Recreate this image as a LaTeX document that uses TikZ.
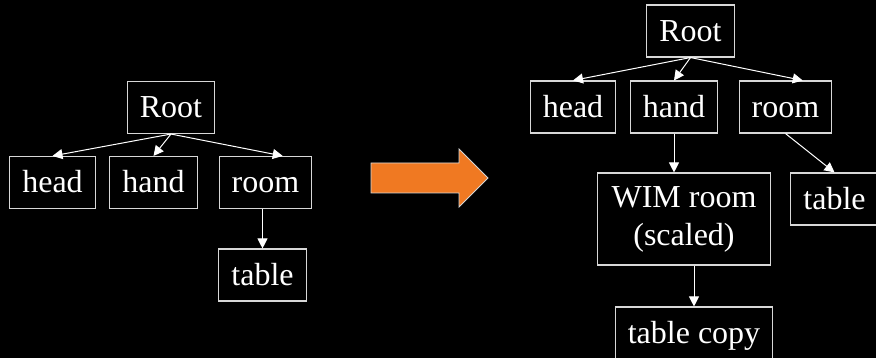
\documentclass[tikz,border=0pt]{standalone}
\usepackage{fontspec}
\setmainfont{Liberation Serif}
\usetikzlibrary{arrows.meta, calc}
\definecolor{boxline}{RGB}{215, 215, 215}
\definecolor{moveorange}{RGB}{240, 121, 34}

\begin{document}
\begin{tikzpicture}[x=1pt, y=-1pt, >={Triangle[width=10pt, length=10pt]},
    font=\fontsize{32}{38}\selectfont,
    tbox/.style={draw=boxline, line width=1.1pt, text=white, align=center,
                 minimum height=52pt, inner xsep=12.5pt, inner ysep=13.5pt},
    tnode/.style={tbox, text height=23pt, text depth=2pt},
    link/.style={->, white, line width=1pt}]
  \fill[black] (0,0) rectangle (876,358);
  \useasboundingbox (0,0) rectangle (876,358);
  % scene graph before
  \node[tnode] (r1)    at (171, 107.5)   {Root};
  \node[tnode] (head1) at (52.5, 182.5)  {head};
  \node[tnode] (hand1) at (153.5, 182.5) {hand};
  \node[tnode] (room1) at (265.5, 182.5) {room};
  \node[tnode] (tab1)  at (262.5, 275)   {table};
  \draw[link] (r1.south) -- (head1.north);
  \draw[link] (r1.south) -- (hand1.north);
  \draw[link] (r1.south) -- (room1.57);
  \draw[link] (tab1.north |- room1.south) -- (tab1.north);
  % big orange arrow
  \filldraw[fill=moveorange, draw=boxline, line width=0.8pt]
    (371,163) -- (459,163) -- (459,149) -- (488,178) -- (459,207)
    -- (459,193) -- (371,193) -- cycle;
  % scene graph after
  \node[tnode] (r2)    at (690.5, 31)  {Root};
  \node[tnode] (head2) at (573, 107)   {head};
  \node[tnode] (hand2) at (674, 107)   {hand};
  \node[tnode] (room2) at (785.5, 107) {room};
  \node[tbox, inner xsep=14pt, inner ysep=12pt, minimum height=92pt] (wim)
    at (684, 219) {WIM room\\(scaled)};
  \node[tnode] (tab2)  at (834.5, 199) {table};
  \node[tnode] (copy)  at (694, 333)   {table copy};
  \draw[link] (r2.south) -- (head2.north);
  \draw[link] (r2.south) -- (hand2.north);
  \draw[link] (r2.south) -- (room2.57);
  \draw[link] (hand2.south) -- (hand2.south |- wim.north);
  \draw[link] (room2.south) -- (tab2.north);
  \draw[link] (copy.north |- wim.south) -- (copy.north);
\end{tikzpicture}
\end{document}
